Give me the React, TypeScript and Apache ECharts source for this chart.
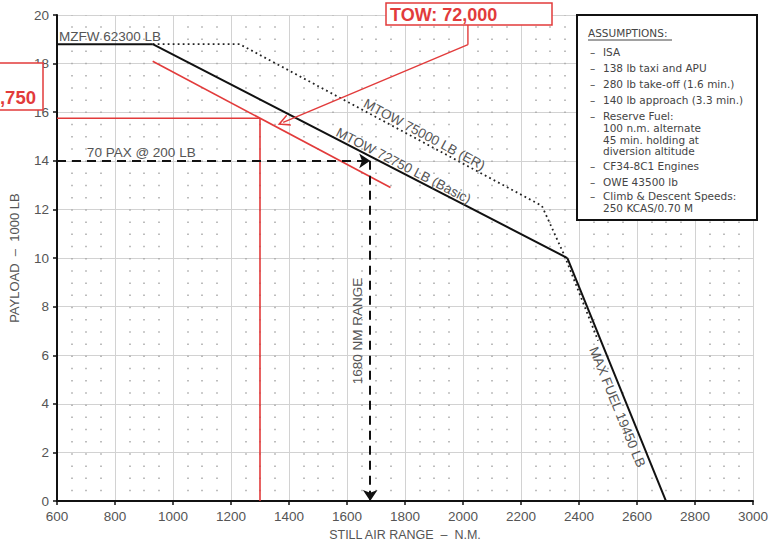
import { useEffect, useRef } from "react";
import * as echarts from "echarts";

// Payload (1000 lb) versus still-air range (n.m.)
const rangeMin = 600;
const rangeMax = 3000;
const rangeStep = 200;
const payloadMin = 0;
const payloadMax = 20;
const payloadStep = 2;

const mzfwLine = [[600, 18.8], [930, 18.8]];
const mtowBasicLine = [[930, 18.8], [2360, 10]];
const maxFuelLine = [[2360, 10], [2700, 0]];
const mtowErLine = [[930, 18.8], [1230, 18.8], [2272, 12.15], [2350, 10.1], [2466, 6.6]];

const paxPayloadLine = [[600, 14], [1680, 14]];
const paxRangeDrop = [[1680, 14], [1680, 0]];

const towLine = [[930, 18.1], [1750, 12.9]];
const towPayloadLine = [[600, 15.75], [1300, 15.75]];
const towRangeDrop = [[1300, 15.75], [1300, 0]];
const towLeaderStem = [[2017, 19.6], [2017, 18.78]];
const towLeaderArrow = [[2017, 18.78], [1380, 15.58]];

const assumptionLines: { text: string; y: number; dash: boolean }[] = [
  { text: "ISA", y: 51.5, dash: true },
  { text: "138 lb taxi and APU", y: 67.5, dash: true },
  { text: "280 lb take-off (1.6 min.)", y: 83.5, dash: true },
  { text: "140 lb approach (3.3 min.)", y: 99.5, dash: true },
  { text: "Reserve Fuel:", y: 116, dash: true },
  { text: "100 n.m. alternate", y: 128, dash: false },
  { text: "45 min. holding at", y: 139.5, dash: false },
  { text: "diversion altitude", y: 151, dash: false },
  { text: "CF34-8C1 Engines", y: 166, dash: true },
  { text: "OWE 43500 lb", y: 181.5, dash: true },
  { text: "Climb & Descent Speeds:", y: 196, dash: true },
  { text: "250 KCAS/0.70 M", y: 207.5, dash: false },
];

const INK = "#111";
const RED = "#e23b3b";
const LABEL = "#555";
const SANS = "Liberation Sans, Arial, sans-serif";
const BOX_FONT = "DejaVu Sans, sans-serif";

const GRID = { left: 55, right: 15, top: 15, bottom: 43 };
const HEIGHT = 546;
const halfUnitPx = (HEIGHT - GRID.top - GRID.bottom) / ((payloadMax - payloadMin) * 2);

function plainLine(data: number[][], color: string, width: number, type: any = "solid") {
  return {
    type: "line",
    data,
    showSymbol: false,
    symbol: "none",
    silent: true,
    lineStyle: { color, width, type },
    z: 5,
  };
}

function arrowLine(coords: number[][], color: string, width: number, type: any, symbol: string, size: any) {
  return {
    type: "lines",
    coordinateSystem: "cartesian2d",
    silent: true,
    symbol: ["none", symbol],
    symbolSize: size,
    lineStyle: { color, width, type, opacity: 1 },
    data: [{ coords }],
    z: 6,
  };
}

export default function App() {
  const ref = useRef<HTMLDivElement>(null);

  useEffect(() => {
    if (!ref.current) return;
    document.body.style.margin = "0";
    const chart = echarts.init(ref.current, undefined, { renderer: "svg" });

    const axisLine = { show: true, onZero: false, lineStyle: { color: INK, width: 2 } };
    const axisTick = { show: true, length: 4, lineStyle: { color: INK, width: 1.5 } };
    const splitLine = { show: true, lineStyle: { color: "#d2d2d2", width: 1 } };
    const plain = (v: number) => String(v);

    chart.setOption({
      animation: false,
      backgroundColor: "#fff",
      grid: { ...GRID, containLabel: false },
      xAxis: {
        type: "value",
        min: rangeMin,
        max: rangeMax,
        interval: rangeStep,
        name: "STILL AIR RANGE  –  N.M.",
        nameLocation: "middle",
        nameGap: 24,
        nameTextStyle: { color: LABEL, fontSize: 12.5, fontFamily: SANS },
        axisLine,
        axisTick,
        axisLabel: { color: LABEL, fontSize: 13.5, fontFamily: SANS, margin: 8, formatter: plain },
        splitLine,
        minorTick: { show: false, splitNumber: 4 },
        minorSplitLine: {
          show: true,
          lineStyle: {
            color: "#a8a8a8",
            width: 1.5,
            type: [1.5, halfUnitPx - 1.5],
            dashOffset: 0.75,
          },
        },
      },
      yAxis: {
        type: "value",
        min: payloadMin,
        max: payloadMax,
        interval: payloadStep,
        name: "PAYLOAD  –  1000 LB",
        nameLocation: "middle",
        nameGap: 36,
        nameTextStyle: { color: LABEL, fontSize: 13, fontFamily: SANS },
        axisLine,
        axisTick,
        axisLabel: { color: LABEL, fontSize: 13.5, fontFamily: SANS, margin: 8, formatter: plain },
        splitLine,
      },
      series: [
        plainLine(mtowErLine, "#222", 1.8, [1.8, 3.2]),
        plainLine(mzfwLine, INK, 2),
        plainLine(mtowBasicLine, INK, 2),
        plainLine(maxFuelLine, INK, 2),
        arrowLine(paxPayloadLine, INK, 2, [9, 6], "arrow", [9, 11]),
        arrowLine(paxRangeDrop, INK, 2, [9, 6], "arrow", [9, 11]),
        plainLine(towLine, RED, 1.6),
        plainLine(towPayloadLine, RED, 1.6),
        plainLine(towRangeDrop, RED, 1.6),
        plainLine(towLeaderStem, RED, 1.4),
        arrowLine(
          towLeaderArrow,
          RED,
          1.4,
          "solid",
          "path://M0,12 L5,0 L10,12 L8.6,12 L5,3.4 L1.4,12 Z",
          [12, 12]
        ),
      ],
    });

    const px = (p: number[]) => chart.convertToPixel({ gridIndex: 0 }, p) as number[];
    const angleOf = (a: number[], b: number[]) => {
      const pa = px(a);
      const pb = px(b);
      return -Math.atan2(pb[1] - pa[1], pb[0] - pa[0]);
    };

    const lineLabel = (
      text: string,
      at: number[],
      rotation: number,
      align: string = "center",
      size = 13.5
    ) => {
      const p = px(at);
      return {
        type: "text",
        x: p[0],
        y: p[1],
        rotation,
        z: 50,
        silent: true,
        style: {
          text,
          fill: LABEL,
          fontSize: size,
          fontFamily: SANS,
          align,
          verticalAlign: "middle",
        },
      };
    };

    const boxText = (text: string, x: number, y: number) => ({
      type: "text",
      x,
      y,
      z: 102,
      silent: true,
      style: {
        text,
        fill: "#444",
        fontSize: 10.5,
        fontFamily: BOX_FONT,
        align: "left",
        verticalAlign: "middle",
      },
    });

    const graphic: any[] = [
      lineLabel("MZFW 62300 LB", [607, 19.11], 0, "left"),
      lineLabel("70 PAX @ 200 LB", [703, 14.35], 0, "left"),
      lineLabel("MTOW 75000 LB (ER)", [1867, 15.08], angleOf(mtowErLine[1], mtowErLine[2])),
      lineLabel("MTOW 72750 LB (Basic)", [1795, 13.8], angleOf(mtowBasicLine[0], mtowBasicLine[1])),
      lineLabel("MAX FUEL 19450 LB", [2532, 3.87], angleOf(maxFuelLine[0], maxFuelLine[1])),
      lineLabel("1680 NM RANGE", [1637, 7.0], Math.PI / 2),

      // take-off weight callout
      {
        type: "rect",
        z: 100,
        silent: true,
        shape: { x: 386, y: 3, width: 166, height: 22 },
        style: { fill: "#fff", stroke: RED, lineWidth: 1.5 },
      },
      {
        type: "text",
        x: 390,
        y: 14.5,
        z: 101,
        silent: true,
        style: {
          text: "TOW: 72,000",
          fill: RED,
          fontSize: 18,
          fontWeight: "bold",
          fontFamily: SANS,
          align: "left",
          verticalAlign: "middle",
        },
      },
      // payload callout
      {
        type: "rect",
        z: 100,
        silent: true,
        shape: { x: -5, y: 63, width: 48, height: 47 },
        style: { fill: "#fff", stroke: RED, lineWidth: 1.5 },
      },
      {
        type: "text",
        x: 36,
        y: 97,
        z: 101,
        silent: true,
        style: {
          text: ",750",
          fill: RED,
          fontSize: 18.5,
          fontWeight: "bold",
          fontFamily: SANS,
          align: "right",
          verticalAlign: "middle",
        },
      },

      // assumptions panel
      {
        type: "rect",
        z: 100,
        silent: true,
        shape: { x: 577, y: 15, width: 180, height: 205 },
        style: { fill: "#fff", stroke: INK, lineWidth: 2 },
      },
      boxText("ASSUMPTIONS:", 588, 33),
      {
        type: "line",
        z: 102,
        silent: true,
        shape: { x1: 588, y1: 40, x2: 672, y2: 40 },
        style: { stroke: "#444", lineWidth: 1 },
      },
    ];

    assumptionLines.forEach((l) => {
      if (l.dash) graphic.push(boxText("–", 590, l.y));
      graphic.push(boxText(l.text, 603, l.y));
    });

    chart.setOption({ graphic });

    return () => chart.dispose();
  }, []);

  return (
    <div
      ref={ref}
      style={{ position: "fixed", left: 0, top: 0, width: 771, height: 546, background: "#fff" }}
    />
  );
}
